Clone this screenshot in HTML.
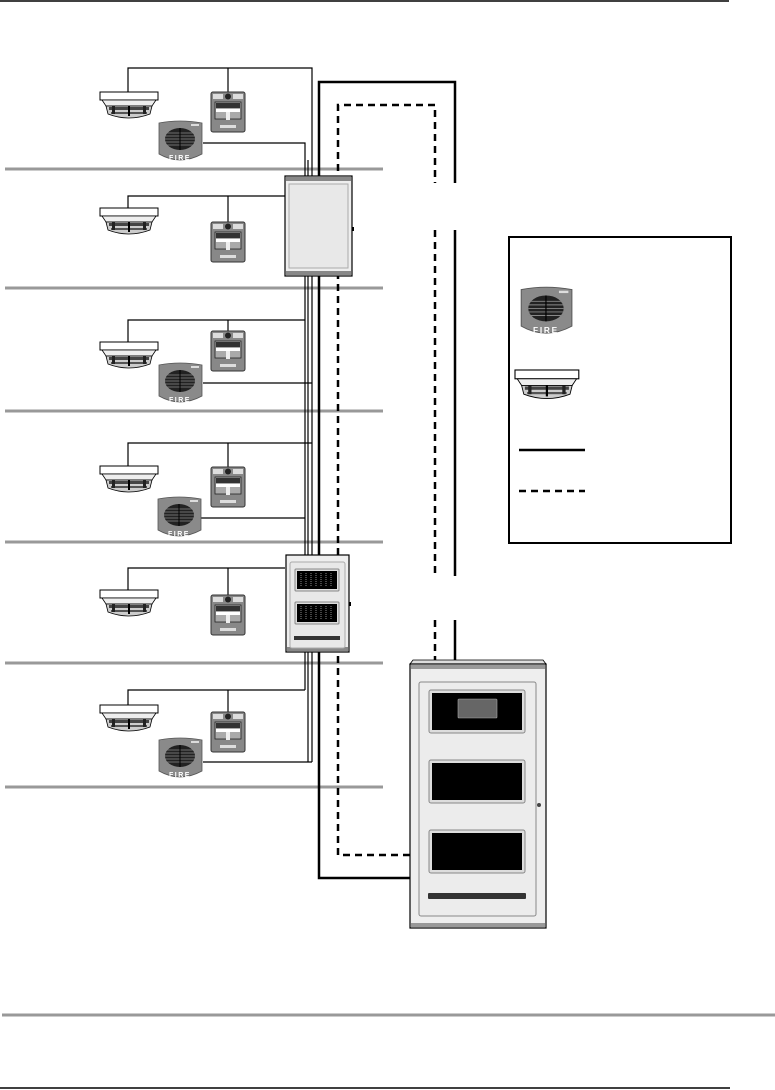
<!DOCTYPE html>
<html><head><meta charset="utf-8"><style>
html,body{margin:0;padding:0;background:#fff}
svg{display:block}
</style></head><body>
<svg width="775" height="1090" viewBox="0 0 775 1090" xmlns="http://www.w3.org/2000/svg" font-family="Liberation Sans, sans-serif">
<defs>
<g id="det">
<rect x="0" y="0" width="58" height="8" fill="#fff" stroke="#000" stroke-width="1"/>
<path d="M2 8 L6 14 L52 14 L56 8 Z" fill="#eee" stroke="#000" stroke-width="0.8"/>
<path d="M6 14 L8 22 Q29 30 50 22 L52 14 Z" fill="#ccc" stroke="#000" stroke-width="0.8"/>
<rect x="9" y="15" width="40" height="3" fill="#444"/>
<rect x="11" y="20" width="36" height="2" fill="#555"/>
<rect x="28" y="14" width="2" height="10" fill="#000"/>
<rect x="12" y="14" width="3" height="8" fill="#222"/>
<rect x="43" y="14" width="3" height="8" fill="#222"/>
</g>
<g id="pull">
<rect x="0" y="0" width="34" height="40" rx="2" fill="#888" stroke="#333" stroke-width="1"/>
<rect x="2" y="2" width="10" height="5" fill="#ddd"/>
<rect x="22" y="2" width="10" height="5" fill="#ddd"/>
<circle cx="17" cy="4.5" r="3" fill="#222"/>
<rect x="4" y="10" width="26" height="17" fill="#aaa" stroke="#222" stroke-width="0.8"/>
<rect x="5" y="11" width="24" height="5" fill="#333"/>
<rect x="5" y="17" width="24" height="3" fill="#fff"/>
<rect x="15" y="20" width="4" height="8" fill="#eee"/>
<rect x="9" y="33" width="16" height="3" fill="#ddd"/>
</g>
<g id="horn">
<path d="M1 3 Q22 -1 44 3 L44 34 Q22 46 1 34 Z" fill="#8a8a8a" stroke="#555" stroke-width="0.8"/>
<ellipse cx="22" cy="19" rx="15" ry="11" fill="#222"/>
<g stroke="#888" stroke-width="0.8">
<line x1="7" y1="13" x2="37" y2="13"/><line x1="7" y1="16" x2="37" y2="16"/><line x1="7" y1="19" x2="37" y2="19"/><line x1="7" y1="22" x2="37" y2="22"/><line x1="7" y1="25" x2="37" y2="25"/>
</g>
<line x1="22" y1="8" x2="22" y2="30" stroke="#000" stroke-width="1"/>
<rect x="33" y="4" width="8" height="2" fill="#ddd"/>
<text x="22" y="40" font-size="7" fill="#fff" text-anchor="middle" letter-spacing="1.5" font-weight="bold">FIRE</text>
</g>
</defs>

<!-- page rules -->
<line x1="0" y1="1" x2="729" y2="1" stroke="#000" stroke-width="1.5"/>
<line x1="2" y1="1015" x2="775" y2="1015" stroke="#999" stroke-width="3"/>
<line x1="0" y1="1088" x2="730" y2="1088" stroke="#000" stroke-width="1.5"/>

<!-- floor lines -->
<g stroke="#999" stroke-width="3">
<line x1="5" y1="169" x2="383" y2="169"/>
<line x1="5" y1="288" x2="383" y2="288"/>
<line x1="5" y1="411" x2="383" y2="411"/>
<line x1="5" y1="542" x2="383" y2="542"/>
<line x1="5" y1="663" x2="383" y2="663"/>
<line x1="5" y1="787" x2="383" y2="787"/>
</g>

<!-- thin wiring -->
<g stroke="#000" stroke-width="1.2" fill="none">
<!-- floor 1 -->
<polyline points="128,92 128,68 312,68 312,176"/>
<line x1="228" y1="68" x2="228" y2="92"/>
<polyline points="203,143 305,143 305,176"/>
<line x1="308" y1="160" x2="308" y2="176"/>
<!-- floor 2 -->
<polyline points="128,208 128,196 285,196"/>
<line x1="228" y1="196" x2="228" y2="222"/>
<!-- sub panel 1 to sub panel 2 risers -->
<line x1="305" y1="276" x2="305" y2="555"/>
<line x1="308" y1="276" x2="308" y2="555"/>
<line x1="312" y1="276" x2="312" y2="555"/>
<!-- floor 3 -->
<polyline points="128,342 128,320 305,320"/>
<line x1="228" y1="320" x2="228" y2="331"/>
<polyline points="203,383 312,383"/>
<!-- floor 4 -->
<polyline points="128,466 128,443 312,443"/>
<line x1="228" y1="443" x2="228" y2="467"/>
<polyline points="201,518 305,518"/>
<!-- floor 5 -->
<polyline points="128,590 128,568 285,568"/>
<line x1="228" y1="568" x2="228" y2="595"/>
<!-- below sub panel 2 -->
<line x1="305" y1="652" x2="305" y2="690"/>
<line x1="308" y1="652" x2="308" y2="762"/>
<line x1="312" y1="652" x2="312" y2="762"/>
<!-- floor 6 -->
<polyline points="128,705 128,690 305,690"/>
<line x1="228" y1="690" x2="228" y2="712"/>
<polyline points="203,762 312,762"/>
</g>

<!-- thick solid loop -->
<g stroke="#000" stroke-width="2.5" fill="none">
<polyline points="410,878 319,878 319,82 455,82 455,183"/>
<line x1="455" y1="230" x2="455" y2="576"/>
<line x1="455" y1="620" x2="455" y2="660"/>
</g>
<!-- dashed loop -->
<g stroke="#000" stroke-width="2.5" fill="none" stroke-dasharray="7,5">
<polyline points="410,855 338,855 338,105 435,105 435,183"/>
<line x1="435" y1="230" x2="435" y2="576"/>
<line x1="435" y1="620" x2="435" y2="660"/>
</g>

<!-- devices -->
<use href="#det" x="100" y="92"/>
<use href="#pull" x="211" y="92"/>
<use href="#horn" x="158" y="120"/>

<use href="#det" x="100" y="208"/>
<use href="#pull" x="211" y="222"/>

<use href="#det" x="100" y="342"/>
<use href="#pull" x="211" y="331"/>
<use href="#horn" x="158" y="362"/>

<use href="#det" x="100" y="466"/>
<use href="#pull" x="211" y="467"/>
<use href="#horn" x="157" y="496"/>

<use href="#det" x="100" y="590"/>
<use href="#pull" x="211" y="595"/>

<use href="#det" x="100" y="705"/>
<use href="#pull" x="211" y="712"/>
<use href="#horn" x="158" y="737"/>

<!-- sub panel 1 -->
<rect x="285" y="176" width="67" height="100" fill="#eee" stroke="#000" stroke-width="1.2"/>
<rect x="286" y="177" width="65" height="4" fill="#888"/>
<rect x="286" y="271" width="65" height="4" fill="#888"/>
<rect x="289" y="184" width="59" height="84" fill="#e8e8e8" stroke="#aaa" stroke-width="1"/>
<rect x="352" y="227" width="2" height="4" fill="#000"/>

<!-- sub panel 2 -->
<rect x="286" y="555" width="63" height="97" fill="#eee" stroke="#000" stroke-width="1.2"/>
<rect x="287" y="647" width="61" height="4" fill="#888"/>
<rect x="290" y="562" width="55" height="86" fill="#e8e8e8" stroke="#aaa" stroke-width="1" rx="2"/>
<rect x="295" y="569" width="44" height="22" fill="#ddd" stroke="#888" rx="1"/>
<rect x="297" y="571" width="40" height="18" fill="#000"/>
<rect x="295" y="602" width="44" height="22" fill="#ddd" stroke="#888" rx="1"/>
<rect x="297" y="604" width="40" height="18" fill="#000"/>
<g stroke="#aaa" stroke-width="0.8" stroke-dasharray="1,1">
<line x1="301" y1="573" x2="301" y2="587"/><line x1="306" y1="573" x2="306" y2="587"/><line x1="311" y1="573" x2="311" y2="587"/><line x1="316" y1="573" x2="316" y2="587"/><line x1="321" y1="573" x2="321" y2="587"/><line x1="326" y1="573" x2="326" y2="587"/><line x1="331" y1="573" x2="331" y2="587"/>
<line x1="301" y1="606" x2="301" y2="620"/><line x1="306" y1="606" x2="306" y2="620"/><line x1="311" y1="606" x2="311" y2="620"/><line x1="316" y1="606" x2="316" y2="620"/><line x1="321" y1="606" x2="321" y2="620"/><line x1="326" y1="606" x2="326" y2="620"/><line x1="331" y1="606" x2="331" y2="620"/>
</g>
<rect x="294" y="636" width="46" height="4" fill="#333"/>
<rect x="349" y="602" width="2" height="4" fill="#000"/>

<!-- main panel -->
<path d="M410 664 L413 660 L543 660 L546 664 Z" fill="#ddd" stroke="#000" stroke-width="0.8"/>
<rect x="410" y="664" width="136" height="264" fill="#eee" stroke="#000" stroke-width="1.2"/>
<rect x="411" y="665" width="134" height="4" fill="#999"/>
<rect x="411" y="923" width="134" height="4" fill="#999"/>
<rect x="419" y="682" width="117" height="234" fill="#ececec" stroke="#888" stroke-width="1" rx="2"/>
<rect x="429" y="690" width="96" height="43" fill="#ddd" stroke="#888" rx="2"/>
<rect x="432" y="693" width="90" height="37" fill="#000"/>
<rect x="458" y="699" width="39" height="19" fill="#666" stroke="#aaa" stroke-width="0.6" rx="1"/>
<rect x="429" y="760" width="96" height="43" fill="#ddd" stroke="#888" rx="2"/>
<rect x="432" y="763" width="90" height="37" fill="#000"/>
<rect x="429" y="830" width="96" height="43" fill="#ddd" stroke="#888" rx="2"/>
<rect x="432" y="833" width="90" height="37" fill="#000"/>
<rect x="428" y="893" width="98" height="6" fill="#333" rx="1"/>
<circle cx="539" cy="805" r="2" fill="#444"/>

<!-- legend -->
<rect x="509" y="237" width="222" height="306" fill="#fff" stroke="#000" stroke-width="2"/>
<g transform="translate(520,286) scale(1.18)"><use href="#horn"/></g>
<g transform="translate(515,370) scale(1.1)"><use href="#det"/></g>
<line x1="519" y1="450" x2="585" y2="450" stroke="#000" stroke-width="2.5"/>
<line x1="519" y1="491" x2="585" y2="491" stroke="#000" stroke-width="2.5" stroke-dasharray="7,5"/>
</svg>
</body></html>
